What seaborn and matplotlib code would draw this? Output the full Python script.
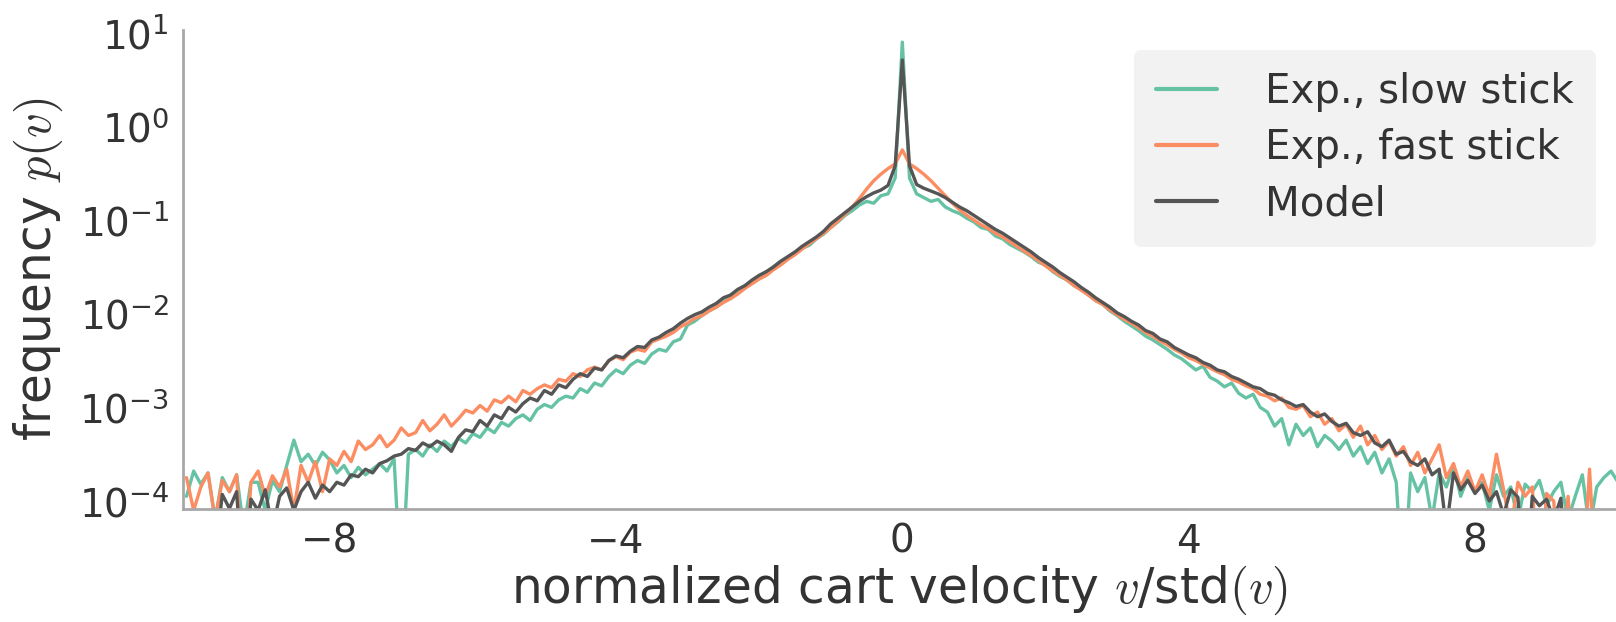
import numpy as np
import pandas as pd
import matplotlib
matplotlib.use("Agg")
import matplotlib.pyplot as plt
import seaborn as sns

# x grid: bin centres from -10 to 10, step 0.1
x_vals = np.round(np.linspace(-10.0, 10.0, 201), 2)

# log10 of frequency (-5 = empty bin, below the axis)
slow_log = [
    -3.95, -3.68, -3.82, -3.70, -4.20, -3.75, -3.90, -3.72, -4.30, -3.80,
    -3.80, -4.10, -3.78, -3.90, -3.62, -3.35, -3.58, -3.50, -3.62, -3.48,
    -3.56, -3.70, -3.62, -3.75, -3.64, -3.72, -3.66, -3.60, -3.68, -3.55,
    -5.00, -3.50, -3.45, -3.52, -3.40, -3.47, -3.36, -3.42, -3.33, -3.38,
    -3.28, -3.32, -3.22, -3.27, -3.16, -3.20, -3.12, -3.08, -3.14, -3.02,
    -2.97, -3.00, -2.92, -2.88, -2.90, -2.80, -2.84, -2.74, -2.77, -2.67,
    -2.60, -2.64, -2.55, -2.50, -2.53, -2.43, -2.38, -2.40, -2.30, -2.27,
    -2.12, -2.08, -2.02, -1.97, -1.93, -1.87, -1.82, -1.78, -1.72, -1.66,
    -1.60, -1.56, -1.50, -1.44, -1.40, -1.36, -1.30, -1.27, -1.20, -1.15,
    -1.08, -1.02, -0.95, -0.90, -0.84, -0.80, -0.82, -0.74, -0.72, -0.55,
    0.90,
    -0.55, -0.72, -0.76, -0.80, -0.78, -0.86, -0.90, -0.93, -0.98, -1.02,
    -1.08, -1.10, -1.17, -1.20, -1.26, -1.30, -1.34, -1.39, -1.45, -1.48,
    -1.55, -1.60, -1.64, -1.70, -1.74, -1.80, -1.86, -1.90, -1.97, -2.02,
    -2.08, -2.13, -2.18, -2.24, -2.28, -2.33, -2.38, -2.44, -2.48, -2.54,
    -2.60, -2.56, -2.68, -2.72, -2.78, -2.74, -2.85, -2.90, -2.86, -3.00,
    -3.05, -3.20, -3.12, -3.40, -3.18, -3.30, -3.22, -3.42, -3.30, -3.36,
    -3.45, -3.35, -3.52, -3.42, -3.60, -3.48, -3.70, -3.55, -3.80, -5.00,
    -3.70, -3.90, -3.75, -4.20, -3.70, -3.85, -3.62, -3.95, -3.75, -3.90,
    -3.80, -4.10, -3.72, -3.95, -3.85, -4.20, -3.82, -3.90, -3.78, -4.05,
    -3.90, -3.80, -4.20, -3.95, -3.72, -4.30, -3.85, -3.75, -3.68, -3.80,
]

fast_log = [
    -3.75, -4.10, -3.85, -3.70, -4.20, -3.78, -3.90, -3.72, -5.00, -3.80,
    -3.68, -3.95, -3.73, -3.85, -3.66, -4.10, -3.62, -3.80, -3.58, -3.90,
    -3.55, -3.62, -3.47, -3.58, -3.36, -3.45, -3.40, -3.30, -3.42, -3.35,
    -3.22, -3.30, -3.27, -3.14, -3.25, -3.18, -3.08, -3.20, -3.12, -3.03,
    -3.06, -2.98, -3.04, -2.92, -2.95, -2.88, -2.94, -2.82, -2.86, -2.80,
    -2.76, -2.79, -2.70, -2.72, -2.64, -2.67, -2.60, -2.57, -2.60, -2.50,
    -2.46, -2.49, -2.41, -2.38, -2.40, -2.30, -2.27, -2.24, -2.20, -2.14,
    -2.10, -2.05, -2.02, -1.97, -1.93, -1.88, -1.84, -1.79, -1.73, -1.68,
    -1.63, -1.59, -1.53, -1.48, -1.42, -1.37, -1.31, -1.25, -1.20, -1.14,
    -1.08, -1.01, -0.94, -0.86, -0.77, -0.67, -0.58, -0.51, -0.45, -0.40,
    -0.25,
    -0.40, -0.45, -0.51, -0.58, -0.66, -0.74, -0.82, -0.89, -0.95, -1.00,
    -1.05, -1.09, -1.14, -1.18, -1.23, -1.28, -1.33, -1.38, -1.43, -1.49,
    -1.54, -1.59, -1.64, -1.70, -1.75, -1.80, -1.86, -1.90, -1.96, -2.01,
    -2.06, -2.10, -2.15, -2.20, -2.24, -2.29, -2.33, -2.38, -2.42, -2.47,
    -2.50, -2.54, -2.58, -2.62, -2.65, -2.70, -2.73, -2.77, -2.80, -2.86,
    -2.88, -2.93, -2.90, -3.00, -3.02, -2.98, -3.10, -3.05, -3.18, -3.12,
    -3.25, -3.18, -3.32, -3.20, -3.40, -3.30, -3.45, -3.36, -3.52, -3.42,
    -3.62, -3.48, -3.70, -3.55, -3.40, -3.75, -3.60, -3.85, -3.68, -3.90,
    -3.72, -3.95, -3.50, -3.88, -4.30, -3.80, -3.95, -3.85, -5.00, -3.92,
    -4.00, -5.00, -3.95, -5.00, -5.00, -3.66, -5.00, -5.00, -5.00, -5.00,
]

model_log = [
    -5.00, -5.00, -5.00, -5.00, -4.60, -3.93, -4.08, -3.90, -5.00, -3.98,
    -4.10, -3.88, -4.30, -3.95, -3.86, -4.10, -3.90, -3.80, -3.97, -3.83,
    -3.90, -3.80, -3.83, -3.72, -3.74, -3.66, -3.70, -3.60, -3.57, -3.52,
    -3.50, -3.44, -3.46, -3.38, -3.42, -3.36, -3.40, -3.47, -3.32, -3.24,
    -3.26, -3.14, -3.20, -3.08, -3.12, -3.00, -3.05, -2.96, -2.90, -2.93,
    -2.82, -2.86, -2.76, -2.79, -2.70, -2.64, -2.67, -2.58, -2.60, -2.50,
    -2.45, -2.47, -2.40, -2.35, -2.36, -2.28, -2.25, -2.20, -2.16, -2.10,
    -2.05, -2.01, -1.98, -1.93, -1.89, -1.83, -1.80, -1.74, -1.70, -1.64,
    -1.59, -1.55, -1.50, -1.44, -1.39, -1.34, -1.28, -1.23, -1.18, -1.12,
    -1.04, -0.98, -0.92, -0.86, -0.80, -0.75, -0.71, -0.68, -0.63, -0.42,
    0.71,
    -0.42, -0.62, -0.66, -0.69, -0.72, -0.76, -0.81, -0.86, -0.90, -0.95,
    -1.00, -1.05, -1.10, -1.14, -1.19, -1.24, -1.29, -1.34, -1.40, -1.45,
    -1.50, -1.56, -1.61, -1.66, -1.72, -1.77, -1.83, -1.88, -1.93, -1.99,
    -2.03, -2.08, -2.12, -2.18, -2.21, -2.27, -2.30, -2.36, -2.40, -2.44,
    -2.47, -2.52, -2.55, -2.60, -2.62, -2.67, -2.70, -2.74, -2.78, -2.80,
    -2.85, -2.87, -2.92, -2.95, -2.99, -2.97, -3.05, -3.10, -3.07, -3.15,
    -3.20, -3.17, -3.27, -3.30, -3.26, -3.38, -3.42, -3.35, -3.50, -3.47,
    -3.58, -3.62, -3.55, -3.72, -3.66, -4.30, -3.70, -3.88, -3.78, -3.92,
    -3.83, -4.00, -3.90, -4.15, -3.88, -3.96, -5.00, -3.95, -4.05, -3.98,
    -4.20, -3.97, -5.00, -5.00, -5.00, -5.00, -5.00, -5.00, -5.00, -5.00,
]

series_names = ["Exp., slow stick", "Exp., fast stick", "Model"]
series_colors = ["#66c2a5", "#fc8d62", "#555555"]
x_ticks = [-8, -4, 0, 4, 8]
y_ticks = [1e-4, 1e-3, 1e-2, 1e-1, 1e0, 1e1]

sns.set_style("white")
plt.rcParams["font.family"] = ["DejaVu Sans"]
plt.rcParams["mathtext.fontset"] = "cm"
plt.rcParams["mathtext.default"] = "it"
plt.rcParams["axes.unicode_minus"] = False

text_color = "#333333"
tick_fs = 28
label_fs = 35
legend_fs = 29

fig = plt.figure(figsize=(16.16, 6.22), dpi=100)
ax = fig.add_axes([0.1132, 0.1817, 0.8868, 0.7701])

for name, col, logs in zip(series_names, series_colors,
                           [slow_log, fast_log, model_log]):
    df = pd.DataFrame({"v": x_vals, "p": 10.0 ** np.asarray(logs)})
    sns.lineplot(data=df, x="v", y="p", color=col, label=name, ax=ax,
                 linewidth=2.4, sort=False)

ax.set_yscale("log")
ax.set_ylim(10 ** -4.085, 10 ** 1.03)
ax.set_xlim(-10.05, 9.97)
ax.set_xticks(x_ticks)
ax.set_xticklabels([("\u2212" + str(abs(t))) if t < 0 else str(t)
                    for t in x_ticks])
ax.set_yticks(y_ticks)
ax.yaxis.set_minor_locator(matplotlib.ticker.NullLocator())

ax.tick_params(axis="both", labelsize=tick_fs, colors=text_color, length=0,
               pad=10)
ax.set_xlabel(r"normalized cart velocity $v$/std$(v)$", fontsize=label_fs,
              color=text_color, labelpad=2)
ax.set_ylabel(r"frequency $p(v)$", fontsize=label_fs, color=text_color,
              labelpad=10)

for side in ["top", "right"]:
    ax.spines[side].set_visible(False)
for side in ["left", "bottom"]:
    ax.spines[side].set_color("#a8a8a8")
    ax.spines[side].set_linewidth(2)

leg = ax.legend(loc="upper right", fontsize=legend_fs, frameon=True,
                facecolor="#f2f2f2", edgecolor="none", framealpha=1,
                handlelength=1.5, handletextpad=1.2, labelspacing=0.4,
                borderaxespad=0.5, borderpad=0.55)
for t in leg.get_texts():
    t.set_color(text_color)
for h in leg.get_lines():
    h.set_linewidth(3)

fig.savefig("out.png", dpi=100)
